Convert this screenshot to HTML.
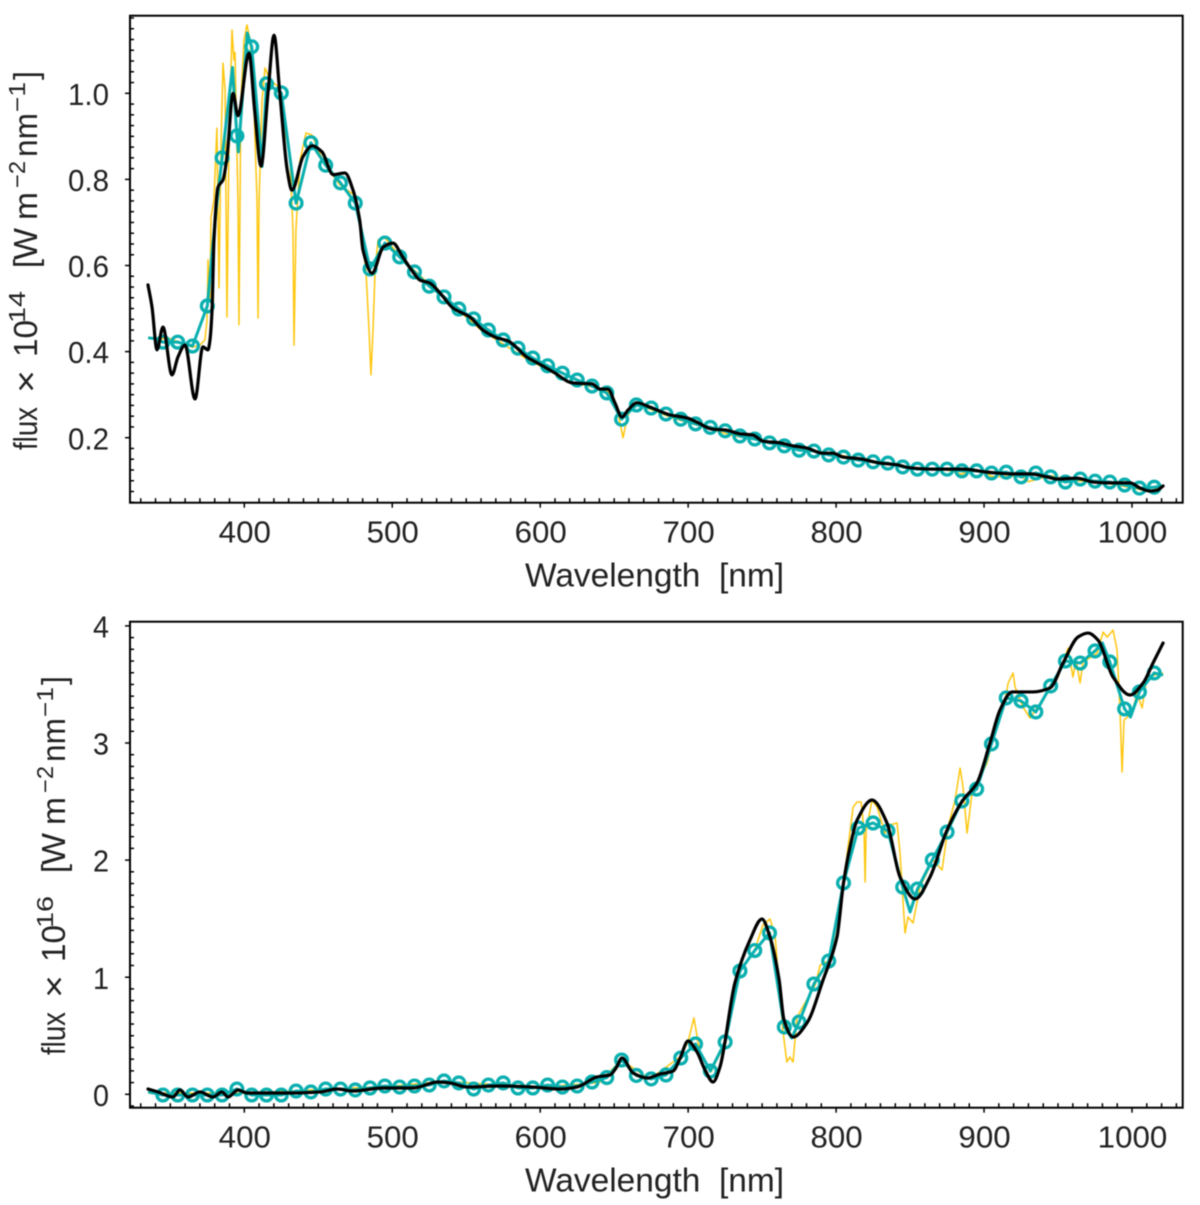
<!DOCTYPE html>
<html lang="en">
<head>
<meta charset="utf-8">
<title>Stellar spectra flux vs wavelength</title>
<style>
html,body{margin:0;padding:0;background:#fff;width:1200px;height:1205px;overflow:hidden}
svg{display:block;filter:blur(0.45px)}
text{font-family:"Liberation Sans",sans-serif;fill:#222;white-space:pre}
</style>
</head>
<body>
<svg id="figure" xmlns="http://www.w3.org/2000/svg" width="1200" height="1205" viewBox="0 0 1200 1205"></svg>
<script>
// ---------- shared tick data ----------
const xMajorTicks = [400, 500, 600, 700, 800, 900, 1000];
const xTickLabels = ["400", "500", "600", "700", "800", "900", "1000"];
const topYTicks = [0.2, 0.4, 0.6, 0.8, 1.0];
const topYTickLabels = ["0.2", "0.4", "0.6", "0.8", "1.0"];
const bottomYTicks = [0, 1, 2, 3, 4];
const bottomYTickLabels = ["0", "1", "2", "3", "4"];

// ---------- marker wavelengths (both panels) ----------
const markerWave = [345,355,365,375,385,395,405,415,425,435,445,455,465,475,485,495,505,515,525,535,545,555,565,575,585,595,605,615,625,635,645,655,665,675,685,695,705,715,725,735,745,755,765,775,785,795,805,815,825,835,845,855,865,875,885,895,905,915,925,935,945,955,965,975,985,995,1005,1015];

// ---------- top panel ----------
const topMarkerFlux = [.422,.422,.413,.506,.850,.901,1.108,1.022,1.001,.745,.885,.833,.792,.745,.592,.652,.620,.585,.552,.527,.499,.476,.450,.427,.408,.385,.367,.350,.334,.320,.304,.243,.276,.269,.255,.243,.232,.224,.216,.204,.197,.188,.181,.171,.169,.160,.155,.148,.144,.141,.132,.127,.127,.127,.123,.123,.118,.120,.109,.118,.109,.097,.104,.099,.097,.090,.083,.085];
const topTealExtraWave = [335,340,378,381,392,396,402,412,1020];
const topTealExtraFlux = [.432,.430,.62,.73,1.06,.864,1.14,.83,.088];
const topBlackWave = [334.9,337.6,341,345,351.1,355.2,359.9,366.7,372,375.5,376.8,378.2,379.5,382.2,385.6,388.3,392.4,395.7,403.2,407,411.3,416,420.1,424,429,432.2,439.7,445.8,452.5,460,468,473.5,478,480.2,486.3,494,500.5,507,514,518.8,525.5,532.3,541.1,552.6,561.3,570.8,578.2,591.1,597.9,608.7,622.2,635,640.4,645.8,650.5,655.3,659.3,665.4,674.2,687.7,699.2,706,716.1,725,735.1,743.8,750.6,762.1,770.9,780.3,790.5,797.9,804.7,816.2,829.7,841.2,850,865.5,885.8,902,919.6,931.1,942.6,949.3,962.9,973.7,985.2,998.7,1005.5,1012.2,1017,1021];
const topBlackFlux = [.555,.504,.404,.457,.346,.388,.415,.29,.411,.404,.427,.497,.659,.782,.799,.852,1.0,.948,1.093,.96,.831,1.0,1.135,1.0,.822,.775,.853,.878,.864,.811,.815,.775,.705,.636,.582,.643,.652,.62,.585,.566,.559,.536,.501,.480,.450,.432,.425,.387,.374,.353,.327,.325,.313,.313,.281,.248,.264,.281,.271,.253,.246,.236,.220,.218,.209,.206,.192,.188,.181,.176,.164,.164,.155,.151,.141,.137,.130,.127,.127,.120,.116,.116,.109,.104,.106,.097,.095,.095,.083,.076,.078,.088];
const topYellowWave = [335,350,365,370,373.4,374.8,375.5,376.8,377.5,379.5,381.5,382.9,384.2,385.6,387,388.3,389.6,391.7,393,393.7,395.7,396.4,397.7,399.8,401.8,403.9,406.6,408.6,409.3,410,412,414,417.4,424.1,427.5,430.9,432.9,433.6,434.9,437.7,441.7,445.8,454.5,464.7,474.2,478.2,482.2,484.3,485.6,487,488.4,490.4,495.1,505.5,530,560,590,620,645,650,653,656,659,664,690,730,770,810,850,875,885,890,900,905,925,930,945,960,975,990,1005,1012,1020];
const topYellowFlux = [.43,.43,.41,.415,.427,.473,.613,.52,.713,.752,.919,.548,.868,1.07,1.007,.48,.868,1.147,1.077,1.095,.752,.462,.985,1.124,1.159,1.124,.96,.752,.478,.752,.985,1.059,1.031,1.012,.915,.845,.683,.415,.683,.845,.908,.903,.833,.787,.764,.694,.59,.45,.346,.45,.59,.659,.664,.62,.54,.45,.385,.33,.31,.29,.25,.20,.25,.28,.245,.205,.18,.155,.13,.125,.115,.125,.12,.11,.11,.098,.112,.1,.098,.09,.08,.075,.085];

// ---------- bottom panel ----------
const bottomMarkerFlux = [-.006,-.006,-.006,-.006,-.006,.045,-.006,-.006,-.006,.028,.02,.045,.045,.037,.054,.071,.062,.071,.079,.114,.097,.045,.079,.097,.054,.054,.079,.062,.071,.105,.143,.293,.161,.131,.165,.31,.43,.199,.447,1.053,1.228,1.378,.575,.617,.942,1.138,1.805,2.274,2.317,2.249,1.77,1.753,2.001,2.24,2.505,2.607,2.992,3.385,3.359,3.265,3.487,3.70,3.683,3.786,3.692,3.291,3.436,3.598];
const bottomTealExtraWave = [335,770,850,980,999,1021];
const bottomTealExtraFlux = [.02,.481,1.557,3.854,3.222,3.58];
const bottomBlackWave = [334.9,341.7,351.8,356.5,361.9,370,378.8,384.9,389,395.7,401.8,415.3,432.9,451.2,462.7,473.5,493.7,514,530.9,539,550.5,572.8,595.1,613.4,624.8,638.4,647.2,651.3,655.3,662.8,672.2,681,689.9,694.6,699.9,706,711.4,716.8,721.5,731.6,741.8,749.9,755.3,761.4,764.8,770.9,780.3,791.2,800.6,805,809.4,814.2,824.3,834.4,843.2,853.4,863.5,875,885.8,895.2,904,910.8,918.9,933.1,944.6,953.4,963.5,970.3,977,987.2,998.7,1007.5,1014.2,1021];
const bottomBlackFlux = [.045,.02,-.023,.037,-.023,.02,-.023,.02,-.023,.037,.011,.011,.011,.02,.045,.028,.054,.054,.105,.097,.062,.071,.062,.045,.062,.148,.165,.225,.31,.182,.139,.173,.199,.31,.455,.361,.208,.105,.233,.951,1.318,1.497,1.343,.985,.635,.489,.609,.976,1.343,1.805,2.112,2.342,2.513,2.317,1.856,1.668,1.856,2.257,2.513,2.658,3.0,3.282,3.436,3.436,3.47,3.683,3.905,3.939,3.879,3.563,3.41,3.512,3.683,3.854];
const bottomYellowWave = [335,400,500,535,600,640,654.6,674,694.4,699.9,703.9,708,715.4,725.5,735,745,750.6,755.3,758.7,764,766.7,768.7,770.9,773.6,785.9,789.2,796,804.8,811.5,814.2,816.9,818.9,819.6,820.3,821.7,824.3,827.7,833.1,836.5,841.2,843.2,846.6,848.6,852,856.7,865.5,871.6,875.7,880.4,883.8,885.8,888.5,891.9,902,907.5,914.2,916.3,919.6,921,926.3,931.1,942.6,950,956.8,960.1,962.2,964.9,966.9,976.4,980.5,983.2,987.2,989.9,991.9,993.3,994.6,1000,1003.4,1006.8,1010.2,1021];
const bottomYellowFlux = [.01,.01,.07,.11,.06,.1,.293,.131,.318,.447,.652,.353,.19,.447,1.053,1.232,1.446,1.497,1.36,.549,.276,.319,.276,.66,.933,1.104,1.147,1.787,2.453,2.496,2.496,2.257,1.813,2.257,2.342,2.513,2.453,2.231,2.3,2.317,2.061,1.377,1.514,1.463,1.77,2.001,1.915,2.282,2.513,2.786,2.624,2.231,2.573,2.829,3.11,3.367,3.512,3.598,3.478,3.307,3.213,3.427,3.563,3.81,3.563,3.708,3.512,3.691,3.768,3.947,3.904,3.964,3.794,3.282,2.752,3.196,3.256,3.427,3.299,3.563,3.598];

// ---------- drawing ----------
const NS = "http://www.w3.org/2000/svg";
const figure = document.getElementById("figure");
const BOX_LEFT = 130, BOX_RIGHT = 1182.7;
const xScale = w => 244.3 + (w - 400) * 1.4795;

function svgEl(tag, attrs, parent, text) {
  const el = document.createElementNS(NS, tag);
  for (const k in attrs) el.setAttribute(k, attrs[k]);
  if (text !== undefined) el.textContent = text;
  parent.appendChild(el);
  return el;
}

function linearPath(xs, ys) {
  return xs.map((w, i) => (i ? "L" : "M") + xScale(w).toFixed(2) + " " + ys[i].toFixed(2)).join("");
}

function smoothPath(xs, ys) {
  const px = xs.map(xScale), n = px.length, m = [], d = [];
  for (let i = 0; i < n - 1; i++) d.push((ys[i + 1] - ys[i]) / (px[i + 1] - px[i]));
  m[0] = d[0];
  m[n - 1] = d[n - 2];
  for (let i = 1; i < n - 1; i++) {
    m[i] = d[i - 1] * d[i] <= 0 ? 0 : 2 * d[i - 1] * d[i] / (d[i - 1] + d[i]);
  }
  let out = "M" + px[0].toFixed(2) + " " + ys[0].toFixed(2);
  for (let i = 0; i < n - 1; i++) {
    const h = (px[i + 1] - px[i]) / 3;
    out += "C" + (px[i] + h).toFixed(2) + " " + (ys[i] + m[i] * h).toFixed(2) + " " +
      (px[i + 1] - h).toFixed(2) + " " + (ys[i + 1] - m[i + 1] * h).toFixed(2) + " " +
      px[i + 1].toFixed(2) + " " + ys[i + 1].toFixed(2);
  }
  return out;
}

function mergeSeries(wa, fa, wb, fb) {
  const pairs = wa.map((w, i) => [w, fa[i]]).concat(wb.map((w, i) => [w, fb[i]]));
  pairs.sort((a, b) => a[0] - b[0]);
  return [pairs.map(p => p[0]), pairs.map(p => p[1])];
}

function drawTitle(group, dx, dy, sup) {
  const pieces = [
    ["flux", 37, 450, 43, 33, "y-title-flux"],
    ["\u00D7", 37, 393, 23, 32, "y-title-times"],
    ["10", 37, 357, 37, 33, "y-title-ten"],
    [sup, 25, 323, 32, 23, "y-title-exponent"],
    ["[", 37, 268, 9, 33, "y-title-open-bracket"],
    ["W", 37, 260, 32, 33, "y-title-watt"],
    ["m", 37, 220, 28, 33, "y-title-metre"],
    ["\u22122", 25, 188, 27, 23, "y-title-metre-exponent"],
    ["nm", 37, 157, 44, 33, "y-title-nanometre"],
    ["\u22121", 25, 112, 30, 23, "y-title-nanometre-exponent"],
    ["]", 37, 80, 9, 33, "y-title-close-bracket"]
  ];
  pieces.forEach(p => {
    const x = p[1] + dx, y = p[2] + dy;
    const t = svgEl("text", {
      transform: "rotate(-90 " + x + " " + y + ")", x: x, y: y,
      "font-size": p[4], textLength: p[3], lengthAdjust: "spacingAndGlyphs"
    }, group, p[0]);
    
    
  });
}

function drawPanel(cfg) {
  const g = svgEl("g", {}, figure);
  
  

  const plot = svgEl("g", {}, g);
  
  

  const yellow = svgEl("path", {
    d: linearPath(cfg.yellowWave, cfg.yellowFlux.map(cfg.yScale)),
    fill: "none", stroke: "#ffc60d", "stroke-width": 1.5, "stroke-linejoin": "round"
  }, plot);
  
  

  const merged = mergeSeries(markerWave, cfg.markerFlux, cfg.tealExtraWave, cfg.tealExtraFlux);
  const teal = svgEl("path", {
    d: linearPath(merged[0], merged[1].map(cfg.yScale)),
    fill: "none", stroke: "#0aafaf", "stroke-width": 3, "stroke-linejoin": "round"
  }, plot);
  
  

  markerWave.forEach((w, i) => {
    const c = svgEl("circle", {
      cx: xScale(w).toFixed(2), cy: cfg.yScale(cfg.markerFlux[i]).toFixed(2),
      r: 5.9, fill: "none", stroke: "#0aafaf", "stroke-width": 3.3
    }, plot);
    
    
  });

  const black = svgEl("path", {
    d: smoothPath(cfg.blackWave, cfg.blackFlux.map(cfg.yScale)),
    fill: "none", stroke: "#000", "stroke-width": 3.2, "stroke-linejoin": "round", "stroke-linecap": "round"
  }, plot);
  
  

  const frame = svgEl("rect", {
    x: BOX_LEFT, y: cfg.top, width: BOX_RIGHT - BOX_LEFT, height: cfg.bottom - cfg.top,
    fill: "none", stroke: "#000", "stroke-width": 2
  }, g);
  
  

  const axis = svgEl("g", { stroke: "#000", "stroke-width": 1.5 }, g);
  
  

  for (let w = 330; w <= 1030; w += 10) {
    if (w % 100 === 0) continue;
    const mx = svgEl("line", { x1: xScale(w), x2: xScale(w), y1: cfg.bottom, y2: cfg.bottom - 4.5 }, axis);
    
    
  }
  xMajorTicks.forEach((w, i) => {
    const t = svgEl("line", { x1: xScale(w), x2: xScale(w), y1: cfg.bottom, y2: cfg.bottom + 5 }, axis);
    
    
    const s = xTickLabels[i];
    const lab = svgEl("text", {
      x: xScale(w) + 0.5, y: cfg.bottom + 40, "text-anchor": "middle", "font-size": 31,
      textLength: s.length * 17.4, lengthAdjust: "spacingAndGlyphs", stroke: "none"
    }, g, s);
    
    
  });
  const minorCount = Math.round((cfg.yMinorEnd - cfg.yMinorStart) / cfg.yMinorStep);
  for (let k = 0; k <= minorCount; k++) {
    const v = cfg.yMinorStart + k * cfg.yMinorStep;
    if (cfg.yTicks.some(t => Math.abs(t - v) < 1e-6)) continue;
    const my = svgEl("line", { x1: BOX_LEFT, x2: BOX_LEFT + 4, y1: cfg.yScale(v), y2: cfg.yScale(v) }, axis);
    
    
  }
  cfg.yTicks.forEach((v, i) => {
    const t = svgEl("line", { x1: BOX_LEFT, x2: BOX_LEFT - 5, y1: cfg.yScale(v), y2: cfg.yScale(v) }, axis);
    
    
    const s = cfg.yTickLabels[i];
    const lab = svgEl("text", {
      x: 109, y: cfg.yScale(v) + 11.6, "text-anchor": "end", "font-size": 31,
      textLength: s.length === 1 ? 16 : 41, lengthAdjust: "spacingAndGlyphs", stroke: "none"
    }, g, s);
    
    
  });

  const xTitle = svgEl("text", {
    x: 525, y: cfg.bottom + 84, "font-size": 33, textLength: 259, lengthAdjust: "spacingAndGlyphs"
  }, g, "Wavelength  [nm]");
  
  

  const yTitle = svgEl("g", {}, g);
  
  
  drawTitle(yTitle, cfg.titleDx, cfg.titleDy, cfg.exponent);
}

drawPanel({
  name: "top-panel", top: 15.7, bottom: 502.7,
  yScale: v => 523.8 - v * 430.5,
  yTicks: topYTicks, yTickLabels: topYTickLabels,
  yMinorStart: 0.05, yMinorEnd: 1.175, yMinorStep: 0.025,
  markerFlux: topMarkerFlux, tealExtraWave: topTealExtraWave, tealExtraFlux: topTealExtraFlux,
  blackWave: topBlackWave, blackFlux: topBlackFlux,
  yellowWave: topYellowWave, yellowFlux: topYellowFlux,
  titleDx: 0, titleDy: 0, exponent: "14"
});
drawPanel({
  name: "bottom-panel", top: 621.7, bottom: 1107.7,
  yScale: v => 1094.3 - v * 117.1,
  yTicks: bottomYTicks, yTickLabels: bottomYTickLabels,
  yMinorStart: -0.1, yMinorEnd: 4.0, yMinorStep: 0.1,
  markerFlux: bottomMarkerFlux, tealExtraWave: bottomTealExtraWave, tealExtraFlux: bottomTealExtraFlux,
  blackWave: bottomBlackWave, blackFlux: bottomBlackFlux,
  yellowWave: bottomYellowWave, yellowFlux: bottomYellowFlux,
  titleDx: 28, titleDy: 605, exponent: "16"
});
</script>
</body>
</html>
